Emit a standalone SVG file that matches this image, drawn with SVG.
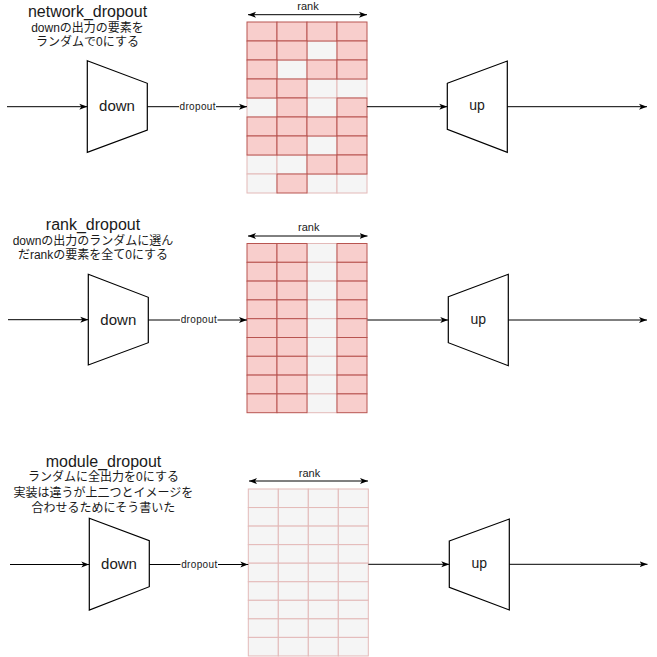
<svg xmlns="http://www.w3.org/2000/svg" width="657" height="657" viewBox="0 0 657 657">
<style>
text{font-family:"Liberation Sans","Noto Sans CJK JP",sans-serif;fill:#1a1a1a;text-anchor:middle}
.title{font-size:16px}
.note{font-size:12px}
.shape{font-size:15px}
.up{font-size:14px}
.lbl{font-size:10px}
.rk{font-size:11px}
.trap{fill:#ffffff;stroke:#000000;stroke-width:1.2}
.edge{stroke:#000000;stroke-width:1;fill:none;marker-end:url(#ah)}
.dbl{stroke:#000000;stroke-width:1;fill:none;marker-end:url(#ah);marker-start:url(#ah)}
.p{fill:#f8cecc;stroke:#b85450;stroke-width:1}
.g{fill:#f5f5f5;stroke:#e3b9b8;stroke-width:1}
.bg{fill:#ffffff}
</style>
<defs>
<marker id="ah" markerUnits="userSpaceOnUse" markerWidth="8" markerHeight="7" viewBox="0 0 8 6" refX="8" refY="3" orient="auto-start-reverse">
<path d="M0,0 L8,3 L0,6 L2,3 Z" fill="#000000"/>
</marker>
</defs>

<!-- section 1: network_dropout -->
<g id="label-network">
<text class="title" x="87.5" y="17">network_dropout</text>
<text class="note" x="87.5" y="31.5">downの出力の要素を</text>
<text class="note" x="87.5" y="46">ランダムで0にする</text>
</g>
<g id="down1">
<polygon class="trap" points="87.3,60.7 147.3,83.3 147.3,130 87.3,152.3"/>
<text class="shape" x="117" y="111">down</text>
</g>
<g id="up1">
<polygon class="trap" points="447.3,83.3 507.3,61 507.3,152.3 447.3,129.3"/>
<text class="up" x="477" y="110">up</text>
</g>
<g id="grid1">
<rect class="g" x="307" y="41" width="30" height="19"/>
<rect class="g" x="277" y="60" width="30" height="19"/>
<rect class="g" x="307" y="79" width="30" height="19"/>
<rect class="g" x="337" y="79" width="30" height="19"/>
<rect class="g" x="247" y="98" width="30" height="19"/>
<rect class="g" x="307" y="98" width="30" height="19"/>
<rect class="g" x="307" y="136" width="30" height="19"/>
<rect class="g" x="247" y="155" width="30" height="19"/>
<rect class="g" x="277" y="155" width="30" height="19"/>
<rect class="g" x="247" y="174" width="30" height="19"/>
<rect class="g" x="307" y="174" width="30" height="19"/>
<rect class="g" x="337" y="174" width="30" height="19"/>
<rect class="p" x="247" y="22" width="30" height="19"/>
<rect class="p" x="277" y="22" width="30" height="19"/>
<rect class="p" x="307" y="22" width="30" height="19"/>
<rect class="p" x="337" y="22" width="30" height="19"/>
<rect class="p" x="247" y="41" width="30" height="19"/>
<rect class="p" x="277" y="41" width="30" height="19"/>
<rect class="p" x="337" y="41" width="30" height="19"/>
<rect class="p" x="247" y="60" width="30" height="19"/>
<rect class="p" x="307" y="60" width="30" height="19"/>
<rect class="p" x="337" y="60" width="30" height="19"/>
<rect class="p" x="247" y="79" width="30" height="19"/>
<rect class="p" x="277" y="79" width="30" height="19"/>
<rect class="p" x="277" y="98" width="30" height="19"/>
<rect class="p" x="337" y="98" width="30" height="19"/>
<rect class="p" x="247" y="117" width="30" height="19"/>
<rect class="p" x="277" y="117" width="30" height="19"/>
<rect class="p" x="307" y="117" width="30" height="19"/>
<rect class="p" x="337" y="117" width="30" height="19"/>
<rect class="p" x="247" y="136" width="30" height="19"/>
<rect class="p" x="277" y="136" width="30" height="19"/>
<rect class="p" x="337" y="136" width="30" height="19"/>
<rect class="p" x="307" y="155" width="30" height="19"/>
<rect class="p" x="337" y="155" width="30" height="19"/>
<rect class="p" x="277" y="174" width="30" height="19"/>
<text class="rk" x="308" y="10">rank</text>
</g>

<!-- section 2: rank_dropout -->
<g id="label-rank">
<text class="title" x="93" y="230">rank_dropout</text>
<text class="note" x="93" y="245">downの出力のランダムに選ん</text>
<text class="note" x="93" y="258.7">だrankの要素を全て0にする</text>
</g>
<g id="down2">
<polygon class="trap" points="88.3,274.3 148.3,297.3 148.3,342.7 88.3,365"/>
<text class="shape" x="118.3" y="324.5">down</text>
</g>
<g id="up2">
<polygon class="trap" points="448.3,296.7 508.3,274.3 508.3,365.7 448.3,342.7"/>
<text class="up" x="478.3" y="323.5">up</text>
</g>
<g id="grid2">
<rect class="g" x="307" y="243.5" width="30" height="18.8"/>
<rect class="g" x="307" y="262.3" width="30" height="18.8"/>
<rect class="g" x="307" y="281.1" width="30" height="18.8"/>
<rect class="g" x="307" y="299.9" width="30" height="18.8"/>
<rect class="g" x="307" y="318.7" width="30" height="18.8"/>
<rect class="g" x="307" y="337.5" width="30" height="18.8"/>
<rect class="g" x="307" y="356.3" width="30" height="18.8"/>
<rect class="g" x="307" y="375.1" width="30" height="18.8"/>
<rect class="g" x="307" y="393.9" width="30" height="18.8"/>
<rect class="p" x="247" y="243.5" width="30" height="18.8"/><rect class="p" x="277" y="243.5" width="30" height="18.8"/><rect class="p" x="337" y="243.5" width="30" height="18.8"/>
<rect class="p" x="247" y="262.3" width="30" height="18.8"/><rect class="p" x="277" y="262.3" width="30" height="18.8"/><rect class="p" x="337" y="262.3" width="30" height="18.8"/>
<rect class="p" x="247" y="281.1" width="30" height="18.8"/><rect class="p" x="277" y="281.1" width="30" height="18.8"/><rect class="p" x="337" y="281.1" width="30" height="18.8"/>
<rect class="p" x="247" y="299.9" width="30" height="18.8"/><rect class="p" x="277" y="299.9" width="30" height="18.8"/><rect class="p" x="337" y="299.9" width="30" height="18.8"/>
<rect class="p" x="247" y="318.7" width="30" height="18.8"/><rect class="p" x="277" y="318.7" width="30" height="18.8"/><rect class="p" x="337" y="318.7" width="30" height="18.8"/>
<rect class="p" x="247" y="337.5" width="30" height="18.8"/><rect class="p" x="277" y="337.5" width="30" height="18.8"/><rect class="p" x="337" y="337.5" width="30" height="18.8"/>
<rect class="p" x="247" y="356.3" width="30" height="18.8"/><rect class="p" x="277" y="356.3" width="30" height="18.8"/><rect class="p" x="337" y="356.3" width="30" height="18.8"/>
<rect class="p" x="247" y="375.1" width="30" height="18.8"/><rect class="p" x="277" y="375.1" width="30" height="18.8"/><rect class="p" x="337" y="375.1" width="30" height="18.8"/>
<rect class="p" x="247" y="393.9" width="30" height="18.8"/><rect class="p" x="277" y="393.9" width="30" height="18.8"/><rect class="p" x="337" y="393.9" width="30" height="18.8"/>
<text class="rk" x="308.8" y="231">rank</text>
</g>

<!-- section 3: module_dropout -->
<g id="label-module">
<text class="title" x="103.5" y="466.5">module_dropout</text>
<text class="note" x="103.5" y="481.3">ランダムに全出力を0にする</text>
<text class="note" x="103.5" y="497.3">実装は違うが上二つとイメージを</text>
<text class="note" x="103.5" y="511.7">合わせるためにそう書いた</text>
</g>
<g id="down3">
<polygon class="trap" points="89.3,518.3 149.3,540.7 149.3,586.7 89.3,610"/>
<text class="shape" x="119" y="569.3">down</text>
</g>
<g id="up3">
<polygon class="trap" points="449.3,541 509.3,519 509.3,610 449.3,587.3"/>
<text class="up" x="479.3" y="568">up</text>
</g>
<g id="grid3">
<rect class="g" x="248.3" y="489" width="30" height="18.55"/><rect class="g" x="278.3" y="489" width="30" height="18.55"/><rect class="g" x="308.3" y="489" width="30" height="18.55"/><rect class="g" x="338.3" y="489" width="30" height="18.55"/>
<rect class="g" x="248.3" y="507.55" width="30" height="18.55"/><rect class="g" x="278.3" y="507.55" width="30" height="18.55"/><rect class="g" x="308.3" y="507.55" width="30" height="18.55"/><rect class="g" x="338.3" y="507.55" width="30" height="18.55"/>
<rect class="g" x="248.3" y="526.1" width="30" height="18.55"/><rect class="g" x="278.3" y="526.1" width="30" height="18.55"/><rect class="g" x="308.3" y="526.1" width="30" height="18.55"/><rect class="g" x="338.3" y="526.1" width="30" height="18.55"/>
<rect class="g" x="248.3" y="544.65" width="30" height="18.55"/><rect class="g" x="278.3" y="544.65" width="30" height="18.55"/><rect class="g" x="308.3" y="544.65" width="30" height="18.55"/><rect class="g" x="338.3" y="544.65" width="30" height="18.55"/>
<rect class="g" x="248.3" y="563.2" width="30" height="18.55"/><rect class="g" x="278.3" y="563.2" width="30" height="18.55"/><rect class="g" x="308.3" y="563.2" width="30" height="18.55"/><rect class="g" x="338.3" y="563.2" width="30" height="18.55"/>
<rect class="g" x="248.3" y="581.75" width="30" height="18.55"/><rect class="g" x="278.3" y="581.75" width="30" height="18.55"/><rect class="g" x="308.3" y="581.75" width="30" height="18.55"/><rect class="g" x="338.3" y="581.75" width="30" height="18.55"/>
<rect class="g" x="248.3" y="600.3" width="30" height="18.55"/><rect class="g" x="278.3" y="600.3" width="30" height="18.55"/><rect class="g" x="308.3" y="600.3" width="30" height="18.55"/><rect class="g" x="338.3" y="600.3" width="30" height="18.55"/>
<rect class="g" x="248.3" y="618.85" width="30" height="18.55"/><rect class="g" x="278.3" y="618.85" width="30" height="18.55"/><rect class="g" x="308.3" y="618.85" width="30" height="18.55"/><rect class="g" x="338.3" y="618.85" width="30" height="18.55"/>
<rect class="g" x="248.3" y="637.4" width="30" height="18.55"/><rect class="g" x="278.3" y="637.4" width="30" height="18.55"/><rect class="g" x="308.3" y="637.4" width="30" height="18.55"/><rect class="g" x="338.3" y="637.4" width="30" height="18.55"/>
<text class="rk" x="309.5" y="477">rank</text>
</g>

<g id="connectors">
<line class="dbl" x1="248" y1="14.7" x2="367" y2="14.7"/>
<line class="edge" x1="7" y1="106.7" x2="87.3" y2="106.7"/>
<line class="edge" x1="147.3" y1="106.7" x2="247" y2="106.7"/>
<line class="edge" x1="367" y1="106.7" x2="447.3" y2="106.7"/>
<line class="edge" x1="507.3" y1="106.7" x2="647" y2="106.7"/>
<rect class="bg" x="179" y="100" width="37" height="12"/>
<text class="lbl" x="197.5" y="109.7" textLength="36" lengthAdjust="spacing">dropout</text>

<line class="dbl" x1="248" y1="236" x2="367.5" y2="236"/>
<line class="edge" x1="8" y1="319.7" x2="88.3" y2="319.7"/>
<line class="edge" x1="148.3" y1="320" x2="247" y2="320"/>
<line class="edge" x1="367.4" y1="320" x2="448.3" y2="320"/>
<line class="edge" x1="508.3" y1="320" x2="647" y2="320"/>
<rect class="bg" x="180" y="313.5" width="37.5" height="12"/>
<text class="lbl" x="198.7" y="323" textLength="36" lengthAdjust="spacing">dropout</text>

<line class="dbl" x1="249" y1="481" x2="368" y2="481"/>
<line class="edge" x1="10" y1="564.5" x2="89.3" y2="564.5"/>
<line class="edge" x1="149.3" y1="564.5" x2="248.3" y2="564.5"/>
<line class="edge" x1="368.3" y1="564.3" x2="449.3" y2="564.3"/>
<line class="edge" x1="509.3" y1="564.3" x2="647.5" y2="564.3"/>
<rect class="bg" x="180.5" y="558" width="37.5" height="12"/>
<text class="lbl" x="199.2" y="567.5" textLength="36" lengthAdjust="spacing">dropout</text>
</g>
</svg>
